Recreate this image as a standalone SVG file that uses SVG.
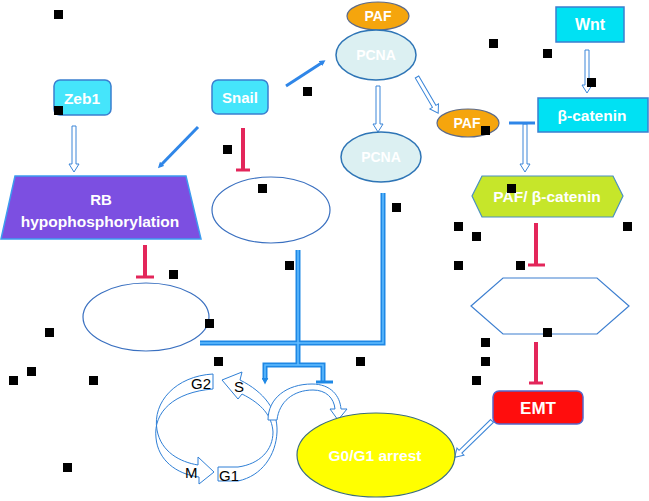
<svg xmlns="http://www.w3.org/2000/svg" width="649" height="501" viewBox="0 0 649 501">
<style>
.lbl{font-family:"Liberation Sans","Open Sans",sans-serif;font-weight:bold;fill:#fff;text-anchor:middle}
.cyc{font-family:"Liberation Sans","Open Sans",sans-serif;fill:#000;font-size:15px}
.hollow{fill:#fff;stroke:#3a85d8;stroke-width:1}
.solid{stroke:#2f86e8;stroke-width:3;fill:none}
.red{stroke:#e3265a;stroke-width:4;fill:none}
.redbar{stroke:#e3265a;stroke-width:3}
.pipe{stroke:#1e88e5;stroke-width:5;fill:none}
.pipein{stroke:#63bdff;stroke-width:1.5;fill:none}
.cyc-arrow{fill:#fff;stroke:#2f7fd6;stroke-width:1}
.sq{fill:#000}
</style>
<defs>
<marker id="ah" markerWidth="6" markerHeight="6" refX="3" refY="3" orient="auto" markerUnits="userSpaceOnUse">
<path d="M0,0 L6,3 L0,6 Z" fill="#2f86e8"/>
</marker>
<marker id="ah2" markerWidth="7" markerHeight="7" refX="3.5" refY="3.5" orient="auto" markerUnits="userSpaceOnUse">
<path d="M0,0 L7,3.5 L0,7 Z" fill="#1e88e5"/>
</marker>
</defs>
<rect width="649" height="501" fill="#fff"/>

<g id="connectors">
<path class="hollow" d="M72,126 H76 V164 H79 L74,172 L69,164 H72 Z"/>
<path class="hollow" d="M376,86 H380 V124 H383 L378,132 L373,124 H376 Z"/>
<path class="hollow" d="M585,50 H589 V85 H592 L587,93 L582,85 H585 Z"/>
<path class="hollow" d="M523,124 H527 V164 H530 L525,172 L520,164 H523 Z"/>
<path class="hollow" transform="translate(417,77) rotate(-30.3)" d="M-2,0 H2 V34 H5 L0,42 L-5,34 H-2 Z"/>
<path class="hollow" transform="translate(492,421) rotate(45.8)" d="M-2,0 H2 V44 H5 L0,52 L-5,44 H-2 Z"/>
<line class="solid" x1="198" y1="127" x2="160" y2="166" marker-end="url(#ah)"/>
<line class="solid" x1="286" y1="86" x2="323" y2="62" marker-end="url(#ah)"/>
<path d="M509,123 H535" stroke="#2f86e8" stroke-width="3"/>
<path class="red" d="M243,128 V169"/>
<path class="redbar" d="M236,170 H250"/>
<path class="red" d="M145,245 V276"/>
<path class="redbar" d="M136,277 H154"/>
<path class="red" d="M536,223 V264"/>
<path class="redbar" d="M528,265 H545"/>
<path class="red" d="M536,342 V382"/>
<path class="redbar" d="M529,383 H543"/>
<path class="pipe" d="M200,343 H383 V193"/>
<path class="pipe" d="M298,250 V365"/>
<path class="pipe" d="M265,380 V365 H323 V381"/>
<path class="pipein" d="M200,343 H383 V193 M298,250 V365 M265,380 V365 H323 V381"/>
<path d="M265,378 V381" stroke="#1e88e5" stroke-width="3" marker-end="url(#ah2)"/>
<path d="M316,382 H333" stroke="#1e88e5" stroke-width="3"/>
</g>

<g id="cell-cycle">
<path class="cyc-arrow" d="M213,374 C176,376 152,402 157,430 C161,452 180,462 198,465 L198,457 L214,472 L199,484 L199,477 C176,474 158,460 156,438 C153,412 174,392 213,389 Z"/>
<path class="cyc-arrow" d="M218,467 L238,467 C260,464 273,450 273,432 C272,416 262,404 242,394 L238,399 L222,380 L242,372 L240,380 C264,392 278,410 277,432 C276,455 262,476 238,481 L218,481 Z"/>
<path class="cyc-arrow" d="M268,420 C268,398 287,384 312,384 C331,384 340,396 341,409 L347,409 L338,420 L330,409 L335,409 C334,398 326,390 313,390 C293,390 279,402 277,420 Z"/>
<text class="cyc" x="191" y="389">G2</text>
<text class="cyc" x="234" y="392">S</text>
<text class="cyc" x="185" y="478">M</text>
<text class="cyc" x="219" y="481">G1</text>
</g>

<g id="zeb1"><rect x="54" y="80" width="57" height="35" rx="6" fill="#45e5fb" stroke="#3a7fd0" stroke-width="1.5"/><text class="lbl" x="82" y="104" font-size="15.5">Zeb1</text></g>
<g id="snail"><rect x="212" y="80" width="56" height="34" rx="6" fill="#45e5fb" stroke="#3a7fd0" stroke-width="1.5"/><text class="lbl" x="240" y="103" font-size="15">Snail</text></g>
<g id="paf-top"><ellipse cx="378" cy="16" rx="31" ry="14" fill="#f5a50d" stroke="#5b6a8a" stroke-width="1.2"/><text class="lbl" x="378" y="21" font-size="14">PAF</text></g>
<g id="pcna-top"><ellipse cx="376" cy="55" rx="40" ry="25" fill="#dcf0f2" stroke="#2e75b6" stroke-width="1.5"/><text class="lbl" x="376" y="60" font-size="14">PCNA</text></g>
<g id="pcna-low"><ellipse cx="381" cy="157" rx="40" ry="25" fill="#dcf0f2" stroke="#2e75b6" stroke-width="1.5"/><text class="lbl" x="381" y="162" font-size="14">PCNA</text></g>
<g id="wnt"><rect x="556" y="7" width="68" height="35" fill="#00e1f3" stroke="#3a7fd0" stroke-width="1.5"/><text class="lbl" x="590" y="30" font-size="16" font-weight="normal">Wnt</text></g>
<g id="beta-catenin"><rect x="538" y="98" width="110" height="34" fill="#00e1f3" stroke="#3a7fd0" stroke-width="1.5"/><text class="lbl" x="592" y="121" font-size="15.5" font-weight="normal">β-catenin</text></g>
<g id="paf-small"><ellipse cx="468" cy="123" rx="31" ry="14" fill="#f5a50d" stroke="#5b6a8a" stroke-width="1.2"/><text class="lbl" x="467" y="128" font-size="14">PAF</text></g>
<g id="paf-beta"><polygon points="472,196 482,176 613,176 623,196 613,217 482,217" fill="#c6e62a" stroke="#4a90c0" stroke-width="1.2"/><text class="lbl" x="547" y="202" font-size="15.5">PAF/ β-catenin</text></g>
<g id="rb"><polygon points="15,176 186,176 201,239 1,239" fill="#7c4fe1" stroke="#3d9cf0" stroke-width="1.5"/><text class="lbl" x="101" y="205" font-size="15">RB</text><text class="lbl" x="100" y="227" font-size="15.5">hypophosphorylation</text></g>
<g id="ellipse-rb"><ellipse cx="146" cy="317" rx="63" ry="34" fill="#fff" stroke="#3a70c0" stroke-width="1.2"/></g>
<g id="ellipse-snail"><ellipse cx="271" cy="210" rx="59" ry="33" fill="#fff" stroke="#3a70c0" stroke-width="1.2"/></g>
<g id="hexagon"><polygon points="471,306 503,278 597,278 629,306 597,334 503,334" fill="#fff" stroke="#3d7fd0" stroke-width="1.2"/></g>
<g id="emt"><rect x="493" y="391" width="90" height="33" rx="6" fill="#ff0d0d" stroke="#5566c8" stroke-width="1.5"/><text class="lbl" x="538" y="414" font-size="17">EMT</text></g>
<g id="g0g1"><ellipse cx="376" cy="455" rx="79" ry="42" fill="#ffff00" stroke="#3c6e7a" stroke-width="1.2"/><text class="lbl" x="375" y="461" font-size="15.5">G0/G1 arrest</text></g>

<g id="marks">
<rect class="sq" x="54" y="10" width="9" height="9"/>
<rect class="sq" x="54" y="106" width="9" height="9"/>
<rect class="sq" x="303" y="87" width="9" height="9"/>
<rect class="sq" x="223" y="145" width="9" height="9"/>
<rect class="sq" x="489" y="39" width="9" height="9"/>
<rect class="sq" x="543" y="49" width="9" height="9"/>
<rect class="sq" x="587" y="78" width="9" height="9"/>
<rect class="sq" x="481" y="126" width="9" height="9"/>
<rect class="sq" x="169" y="270" width="9" height="9"/>
<rect class="sq" x="205" y="319" width="9" height="9"/>
<rect class="sq" x="45" y="328" width="9" height="9"/>
<rect class="sq" x="258" y="184" width="9" height="9"/>
<rect class="sq" x="392" y="203" width="9" height="9"/>
<rect class="sq" x="285" y="261" width="9" height="9"/>
<rect class="sq" x="507" y="184" width="9" height="9"/>
<rect class="sq" x="454" y="222" width="9" height="9"/>
<rect class="sq" x="472" y="232" width="9" height="9"/>
<rect class="sq" x="623" y="222" width="9" height="9"/>
<rect class="sq" x="454" y="261" width="9" height="9"/>
<rect class="sq" x="516" y="261" width="9" height="9"/>
<rect class="sq" x="543" y="328" width="9" height="9"/>
<rect class="sq" x="481" y="338" width="9" height="9"/>
<rect class="sq" x="481" y="357" width="9" height="9"/>
<rect class="sq" x="472" y="376" width="9" height="9"/>
<rect class="sq" x="9" y="376" width="9" height="9"/>
<rect class="sq" x="27" y="367" width="9" height="9"/>
<rect class="sq" x="89" y="376" width="9" height="9"/>
<rect class="sq" x="63" y="463" width="9" height="9"/>
<rect class="sq" x="214" y="357" width="9" height="9"/>
<rect class="sq" x="356" y="357" width="9" height="9"/>
</g>
</svg>
